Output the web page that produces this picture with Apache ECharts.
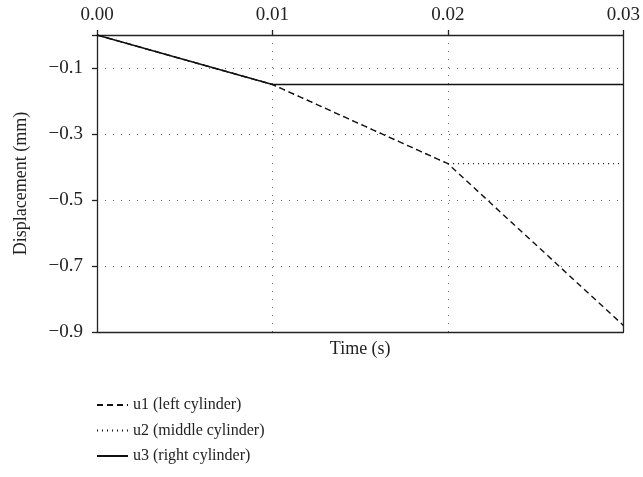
<!DOCTYPE html>
<html>
<head>
<meta charset="utf-8">
<script src="https://cdn.jsdelivr.net/npm/echarts@6/dist/echarts.min.js"></script>
<style>
html,body{margin:0;padding:0;background:#fff;}
#chart{width:643px;height:477px;}
</style>
</head>
<body>
<div id="chart"></div>
<script>
// time steps (s) and displacements (mm)
var times = [0, 0.01, 0.02, 0.03];
var u1 = [0, -0.15, -0.39, -0.88];
var u2 = [0, -0.15, -0.39, -0.39];
var u3 = [0, -0.15, -0.15, -0.15];
var names = ['u1 (left cylinder)', 'u2 (middle cylinder)', 'u3 (right cylinder)'];

var FONT = 'Liberation Serif';
var INK = '#222';

function pairs(xs, ys){
	var out = [];
	for(var i = 0; i < xs.length; i++){
		out.push([xs[i], ys[i]]);
	}
	return out;
}

var myChart = echarts.init(document.getElementById('chart'));
myChart.setOption({
	animation: false,
	grid: {left: 97, right: 17, top: 35, bottom: 145},
	legend: {
		orient: 'vertical',
		left: 96,
		top: 397,
		padding: 0,
		itemWidth: 31,
		itemHeight: 12,
		itemGap: 9.5,
		data: names,
		itemStyle: {opacity: 0},
		textStyle: {fontFamily: FONT, fontSize: 16, color: INK}
	},
	xAxis: [
		{
			type: 'value',
			position: 'top',
			min: 0, max: 0.03, interval: 0.01,
			axisLine: {show: true, onZero: false, lineStyle: {color: INK, width: 1.3}},
			axisTick: {show: true, length: 5, lineStyle: {color: INK, width: 1.3}},
			axisLabel: {
				fontFamily: FONT, fontSize: 19, color: INK, margin: 10,
				formatter: function(v){ return v.toFixed(2); }
			},
			splitLine: {show: true, lineStyle: {color: '#666', width: 1, type: [1, 7]}}
		},
		{
			type: 'value',
			position: 'bottom',
			min: 0, max: 0.03,
			name: 'Time (s)',
			nameLocation: 'middle',
			nameGap: 8,
			nameTextStyle: {fontFamily: FONT, fontSize: 18, color: INK, verticalAlign: 'top'},
			axisLine: {show: true, onZero: false, lineStyle: {color: INK, width: 1.3}},
			axisTick: {show: false},
			axisLabel: {show: false},
			splitLine: {show: false}
		}
	],
	yAxis: [
		{
			type: 'value',
			position: 'left',
			min: -0.9, max: 0, interval: 0.2,
			name: 'Displacement (mm)',
			nameLocation: 'middle',
			nameGap: 67,
			nameTextStyle: {fontFamily: FONT, fontSize: 18, color: INK},
			axisLine: {show: true, onZero: false, lineStyle: {color: INK, width: 1.3}},
			axisTick: {show: true, length: 5, lineStyle: {color: INK, width: 1.3}},
			axisLabel: {
				fontFamily: FONT, fontSize: 19, color: INK, margin: 14,
				formatter: function(v){
					if(Math.abs(v) < 1e-9) return '';
					return '\u2212' + Math.abs(v).toFixed(1);
				}
			},
			splitLine: {show: true, lineStyle: {color: '#666', width: 1, type: [1, 7]}}
		},
		{
			type: 'value',
			position: 'right',
			min: -0.9, max: 0,
			axisLine: {show: true, onZero: false, lineStyle: {color: INK, width: 1.3}},
			axisTick: {show: false},
			axisLabel: {show: false},
			splitLine: {show: false}
		}
	],
	series: [
		{
			name: names[0], type: 'line', symbol: 'none',
			data: pairs(times, u1),
			lineStyle: {color: '#111', width: 1.4, type: [6, 4]},
			itemStyle: {color: '#111'}
		},
		{
			name: names[1], type: 'line', symbol: 'none',
			data: pairs(times, u2),
			lineStyle: {color: '#111', width: 1.2, type: [1, 4]},
			itemStyle: {color: '#111'}
		},
		{
			name: names[2], type: 'line', symbol: 'none',
			data: pairs(times, u3),
			lineStyle: {color: '#111', width: 1.4, type: 'solid'},
			itemStyle: {color: '#111'}
		}
	]
});
</script>
</body>
</html>
